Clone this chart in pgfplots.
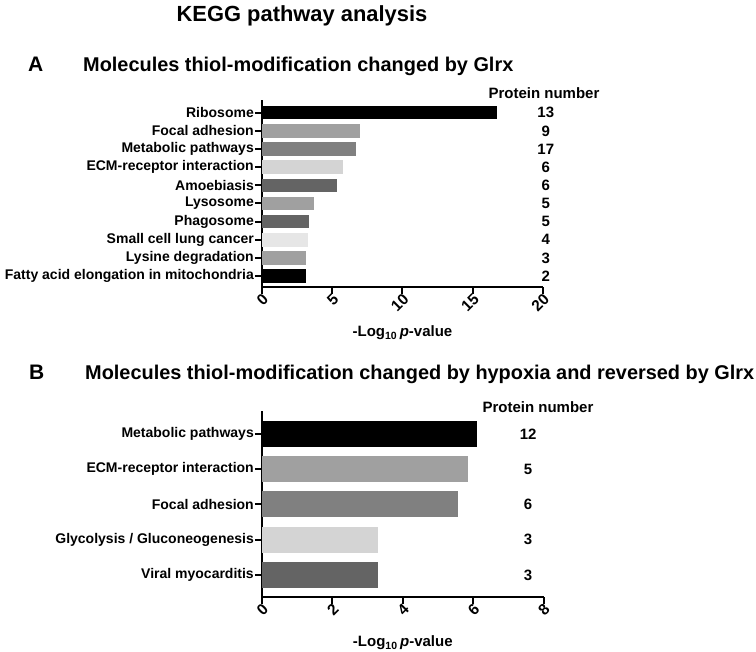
\documentclass[border=0pt]{standalone}
\usepackage{pgfplots}
\pgfplotsset{compat=1.18}
\usepackage{fontspec}
\setmainfont{Liberation Sans}
\definecolor{c0}{RGB}{0,0,0}
\definecolor{c1}{RGB}{160,160,160}
\definecolor{c2}{RGB}{128,128,128}
\definecolor{c3}{RGB}{212,212,212}
\definecolor{c4}{RGB}{100,100,100}
\definecolor{c5}{RGB}{230,230,230}
\pgfplotsset{
  kegg/.style={
    scale only axis,
    axis x line*=bottom, axis y line*=left,
    axis line style={line width=2.4pt, -},
    tick style={line width=2pt, black},
    tick align=outside,
    major tick length=7pt,
    clip=false,
    every tick label/.append style={font=\bfseries\fontsize{14}{16}\selectfont},
    yticklabel style={inner sep=1pt},
    xticklabel style={rotate=45, anchor=east, inner sep=0pt, font=\bfseries\fontsize{15.5}{18}\selectfont, yshift=-4pt, xshift=1pt},
    xlabel={-Log\textsubscript{10}\,\textit{p}-value},
    xlabel style={font=\bfseries\fontsize{15}{18}\selectfont, at={(axis description cs:0.5,0)}, anchor=center, yshift=-46pt},
  },
  mybar/.style={xbar, bar shift=0pt, bar width=0.74, draw=none, fill=#1},
}
\tikzset{num/.style={font=\bfseries\fontsize{15}{18}\selectfont, anchor=center}}
\begin{document}
\begin{tikzpicture}
\useasboundingbox (0pt,0pt) rectangle (756pt,652pt);
% titles
\node[font=\bfseries\fontsize{21.9}{26}\selectfont, anchor=base] at (302pt,630.5pt) {KEGG pathway analysis};
\node[font=\bfseries\fontsize{21}{25}\selectfont, anchor=base west, inner sep=0pt] at (28pt,580pt) {A};
\node[font=\bfseries\fontsize{19.9}{24}\selectfont, anchor=base west, inner sep=0pt] at (83pt,580pt) {Molecules thiol-modification changed by Glrx};
\node[font=\bfseries\fontsize{21}{25}\selectfont, anchor=base west, inner sep=0pt] at (29pt,272pt) {B};
\node[font=\bfseries\fontsize{19.9}{24}\selectfont, anchor=base west, inner sep=0pt] at (85pt,272pt) {Molecules thiol-modification changed by hypoxia and reversed by Glrx};
\node[font=\bfseries\fontsize{15}{18}\selectfont, anchor=base] at (544pt,553pt) {Protein number};
\node[font=\bfseries\fontsize{15}{18}\selectfont, anchor=base] at (538pt,239pt) {Protein number};

% Panel A
\begin{axis}[kegg, at={(262pt,365pt)}, anchor=south west, width=281pt, height=187pt,
  xmin=0, xmax=20, ymin=-0.6, ymax=9.7,
  xtick={0,5,10,15,20}, xticklabels={0,5,10,15,20},
  ytick={0,1,2,3,4,5,6,7,8,9},
  yticklabels={Fatty acid elongation in mitochondria, Lysine degradation, Small cell lung cancer, Phagosome, Lysosome, Amoebiasis, ECM-receptor interaction, Metabolic pathways, Focal adhesion, Ribosome}]
\addplot[mybar=c0] coordinates {(16.7,9)};
\addplot[mybar=c1] coordinates {(7.0,8)};
\addplot[mybar=c2] coordinates {(6.7,7)};
\addplot[mybar=c3] coordinates {(5.8,6)};
\addplot[mybar=c4] coordinates {(5.35,5)};
\addplot[mybar=c1] coordinates {(3.7,4)};
\addplot[mybar=c4] coordinates {(3.37,3)};
\addplot[mybar=c5] coordinates {(3.27,2)};
\addplot[mybar=c1] coordinates {(3.1,1)};
\addplot[mybar=c0] coordinates {(3.1,0)};
\node[num] at (axis cs:20.2,9) {13};
\node[num] at (axis cs:20.2,8) {9};
\node[num] at (axis cs:20.2,7) {17};
\node[num] at (axis cs:20.2,6) {6};
\node[num] at (axis cs:20.2,5) {6};
\node[num] at (axis cs:20.2,4) {5};
\node[num] at (axis cs:20.2,3) {5};
\node[num] at (axis cs:20.2,2) {4};
\node[num] at (axis cs:20.2,1) {3};
\node[num] at (axis cs:20.2,0) {2};
\end{axis}

% Panel B
\begin{axis}[kegg, at={(262pt,55pt)}, anchor=south west, width=281.6pt, height=186pt,
  xmin=0, xmax=8, ymin=-0.625, ymax=4.65,
  xtick={0,2,4,6,8}, xticklabels={0,2,4,6,8},
  ytick={0,1,2,3,4},
  yticklabels={Viral myocarditis, Glycolysis / Gluconeogenesis, Focal adhesion, ECM-receptor interaction, Metabolic pathways}]
\addplot[mybar=c0] coordinates {(6.11,4)};
\addplot[mybar=c1] coordinates {(5.84,3)};
\addplot[mybar=c2] coordinates {(5.57,2)};
\addplot[mybar=c3] coordinates {(3.30,1)};
\addplot[mybar=c4] coordinates {(3.30,0)};
\node[num] at (axis cs:7.56,4) {12};
\node[num] at (axis cs:7.56,3) {5};
\node[num] at (axis cs:7.56,2) {6};
\node[num] at (axis cs:7.56,1) {3};
\node[num] at (axis cs:7.56,0) {3};
\end{axis}
\end{tikzpicture}
\end{document}
